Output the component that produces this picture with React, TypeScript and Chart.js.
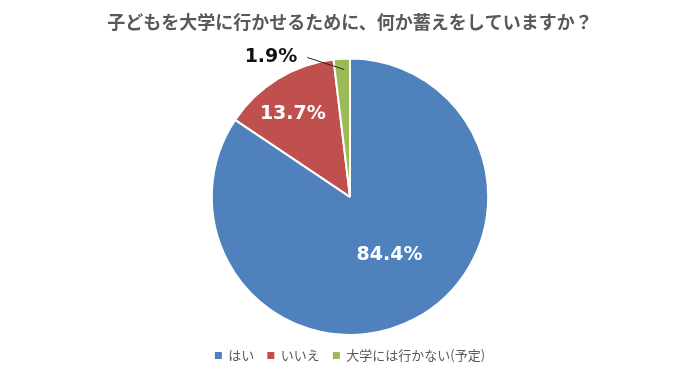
import React, { useEffect, useRef } from "react";
import { Chart, registerables } from "chart.js";

Chart.register(...registerables);

const titleText = "子どもを大学に行かせるために、何か蓄えをしていますか？";
const categories = ["はい", "いいえ", "大学には行かない(予定)"];
const values = [84.4, 13.7, 1.9];
const colors = ["#4F81BD", "#C0504D", "#9BBB59"];

// label placement style (radial fraction, angle shift in degrees, outside flag)
const labelStyle = [
  { f: 0.51, shift: -6, outside: false, color: "#ffffff" },
  { f: 0.73, shift: -3, outside: false, color: "#ffffff" },
  { f: 0.93, shift: 0, outside: true, color: "#111111" },
];

const labelPlugin = {
  id: "sliceLabels",
  afterDatasetsDraw(chart: any) {
    const ctx = chart.ctx;
    const meta = chart.getDatasetMeta(0);
    ctx.save();
    ctx.font = "bold 19px 'DejaVu Sans'";
    ctx.textBaseline = "middle";
    meta.data.forEach((arc: any, i: number) => {
      const { x, y, startAngle, endAngle, outerRadius } = arc.getProps(
        ["x", "y", "startAngle", "endAngle", "outerRadius"],
        true
      );
      const st = labelStyle[i];
      const mid = (startAngle + endAngle) / 2 + (st.shift * Math.PI) / 180;
      const px = x + Math.cos(mid) * outerRadius * st.f;
      const py = y + Math.sin(mid) * outerRadius * st.f;
      const text = values[i].toFixed(1) + "%";
      if (!st.outside) {
        ctx.fillStyle = st.color;
        ctx.textAlign = "center";
        ctx.fillText(text, px, py);
      } else {
        const ex = px - 35;
        const ey = py - 11;
        ctx.strokeStyle = "#222222";
        ctx.lineWidth = 1;
        ctx.beginPath();
        ctx.moveTo(px + 2, py + 1);
        ctx.lineTo(ex, ey);
        ctx.stroke();
        ctx.fillStyle = st.color;
        ctx.textAlign = "right";
        ctx.fillText(text, ex - 10, ey);
      }
    });
    ctx.restore();
  },
};

export default function App() {
  const ref = useRef<HTMLCanvasElement | null>(null);
  useEffect(() => {
    if (!ref.current) return;
    const chart = new Chart(ref.current, {
      type: "pie",
      data: {
        labels: categories,
        datasets: [
          {
            data: values,
            backgroundColor: colors,
            borderColor: "#ffffff",
            borderWidth: 2,
          },
        ],
      },
      options: {
        responsive: false,
        animation: false,
        layout: { padding: { top: 0, bottom: 8, left: 0, right: 0 } },
        plugins: {
          title: {
            display: true,
            text: titleText,
            color: "#595959",
            font: { family: "'Noto Sans CJK JP'", size: 18, weight: "bold" },
            padding: { top: 11, bottom: 25 },
          },
          legend: {
            position: "bottom",
            labels: {
              boxWidth: 7,
              boxHeight: 7,
              padding: 13,
              color: "#595959",
              font: { family: "'Noto Sans CJK JP'", size: 13 },
              generateLabels: (c: any) =>
                (Chart as any).overrides.pie.plugins.legend.labels
                  .generateLabels(c)
                  .map((l: any) => ({ ...l, lineWidth: 0 })),
            },
          },
          tooltip: { enabled: false },
        },
      },
      plugins: [labelPlugin],
    });
    return () => chart.destroy();
  }, []);
  return (
    <div style={{ position: "absolute", left: 0, top: 0, width: 700, height: 380, background: "#fff" }}>
      <canvas ref={ref} width={700} height={380} />
    </div>
  );
}
